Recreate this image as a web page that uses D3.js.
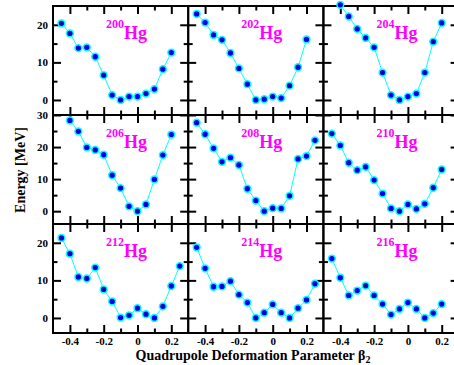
<!DOCTYPE html>
<html>
<head>
<meta charset="utf-8">
<script src="https://cdn.jsdelivr.net/npm/d3@7"></script>
<style>
  body { margin: 0; background: #fff; }
  svg { display: block; }
  text { font-family: "Liberation Serif", "Times New Roman", serif; font-weight: bold; }
</style>
</head>
<body>
<div id="chart"></div>
<script>
// deformation grid (beta2) shared by all panels
const beta = [-0.45, -0.40, -0.35, -0.30, -0.25, -0.20, -0.15, -0.10, -0.05, 0.00, 0.05, 0.10, 0.15, 0.20, 0.25];

// energies in MeV, null = no point
const hg200 = [20.4, 17.7, 13.8, 14.0, 11.5, 6.6, 1.3, 0, 0.9, 0.9, 1.7, 2.9, 8.2, 12.6, null];
const hg202 = [22.9, 20.6, 17.3, 16.0, 12.5, 8.4, 4.2, 0, 0.2, 0.9, 0.5, 3.8, 8.7, 16.1, null];
const hg204 = [null, 25.3, 22.2, 18.9, 16.5, 14.0, 7.3, 1.3, 0, 0.9, 1.7, 7.3, 15.5, 20.5, null];
const hg206 = [null, 28.3, 24.9, 19.9, 19.1, 17.6, 11.2, 7.2, 1.5, 0, 2.1, 9.9, 17.5, 23.9, null];
const hg208 = [27.6, 24.0, 19.6, 15.4, 16.7, 14.4, 7.0, 3.3, 0, 0.95, 0.85, 4.8, 16.3, 17.2, 22.1];
const hg210 = [24.2, 20.5, 15.1, 12.8, 13.8, 9.7, 5.5, 0.85, 0, 2.1, 0.7, 2.3, 7.3, 13.0, null];
const hg212 = [21.3, 17.1, 10.9, 10.5, 13.4, 7.6, 4.4, 0.1, 0.7, 2.6, 1.0, 0, 3.1, 8.5, 13.8];
const hg214 = [18.8, 13.2, 8.3, 8.4, 9.8, 6.2, 4.1, 0, 1.4, 3.6, 1.4, 0, 2.6, 4.8, 9.1];
const hg216 = [15.8, 10.7, 6.0, 7.3, 8.6, 6.0, 3.7, 0.9, 2.4, 4.1, 2.4, 0, 1.3, 3.7, null];

const isotopes = ["200", "202", "204", "206", "208", "210", "212", "214", "216"];
const series = [hg200, hg202, hg204, hg206, hg208, hg210, hg212, hg214, hg216];

// axis ranges / ticks
const xDomain = [-0.5, 0.3];
const xMajor = [-0.4, -0.2, 0, 0.2];
const xMinor = [-0.3, -0.1, 0.1];
const rowYMax = [25, 30, 25];
const yMin = -4;
const yMajorByRow = [[0, 10, 20], [0, 10, 20, 30], [0, 10, 20]];
const yMinorByRow = [[5, 15], [5, 15, 25], [5, 15]];

const width = 454, height = 365;
const left0 = 53, top0 = 6;
const panelW = 135.2, panelH = 109;

const svg = d3.select("#chart").append("svg")
  .attr("width", width)
  .attr("height", height);

const x = d3.scaleLinear().domain(xDomain).range([0, panelW]);
const fmtX = d => d === 0 ? "0" : d.toFixed(1);

series.forEach((vals, i) => {
  const col = i % 3, row = Math.floor(i / 3);
  const y = d3.scaleLinear().domain([yMin, rowYMax[row]]).range([panelH, 0]);

  const g = svg.append("g")
    .attr("transform", `translate(${left0 + col * panelW},${top0 + row * panelH})`);

  // inward ticks on all four sides
  const addAxis = (axis, tx, ty) => {
    const a = g.append("g").attr("transform", `translate(${tx},${ty})`).call(axis);
    a.select(".domain").remove();
    a.selectAll("line").attr("stroke", "#000").attr("stroke-width", 2);
    a.selectAll("text").attr("font-size", 11).attr("fill", "#000")
      .style("font-family", '"Liberation Serif", "Times New Roman", serif');
    return a;
  };

  addAxis(d3.axisBottom(x).tickValues(xMajor).tickSize(-8).tickPadding(4)
    .tickFormat(row === 2 ? fmtX : ""), 0, panelH);
  addAxis(d3.axisBottom(x).tickValues(xMinor).tickSize(-4.5).tickFormat(""), 0, panelH);
  addAxis(d3.axisTop(x).tickValues(xMajor).tickSize(-8).tickFormat(""), 0, 0);
  addAxis(d3.axisTop(x).tickValues(xMinor).tickSize(-4.5).tickFormat(""), 0, 0);

  addAxis(d3.axisLeft(y).tickValues(yMajorByRow[row]).tickSize(-8).tickPadding(5)
    .tickFormat(col === 0 ? d3.format("d") : ""), 0, 0);
  addAxis(d3.axisLeft(y).tickValues(yMinorByRow[row]).tickSize(-4.5).tickFormat(""), 0, 0);
  addAxis(d3.axisRight(y).tickValues(yMajorByRow[row]).tickSize(-8).tickFormat(""), panelW, 0);
  addAxis(d3.axisRight(y).tickValues(yMinorByRow[row]).tickSize(-4.5).tickFormat(""), panelW, 0);

  // frame
  g.append("rect")
    .attr("width", panelW).attr("height", panelH)
    .attr("fill", "none").attr("stroke", "#000").attr("stroke-width", 2);

  const pts = beta.map((b, j) => ({ b, e: vals[j] })).filter(d => d.e != null);

  g.append("path")
    .datum(pts)
    .attr("fill", "none")
    .attr("stroke", "#00ffff")
    .attr("stroke-width", 1)
    .attr("d", d3.line().x(d => x(d.b)).y(d => y(d.e)));

  const dots = g.selectAll(".dot")
    .data(pts)
    .enter()
    .append("g")
    .attr("class", "dot")
    .attr("transform", d => `translate(${x(d.b)},${y(d.e)})`);

  dots.append("circle")
    .attr("r", 3.4)
    .attr("fill", "#0000ff")
    .attr("stroke", "#00ffff")
    .attr("stroke-width", 1.5);

  dots.append("path")
    .attr("d", "M-1.3,-1.3L1.3,1.3M-1.3,1.3L1.3,-1.3")
    .attr("stroke", "#000066")
    .attr("stroke-width", 0.8);

  // isotope label
  const lab = g.append("text")
    .attr("x", 53)
    .attr("y", 33)
    .attr("fill", "#ff00ff");
  lab.append("tspan")
    .attr("font-size", 12)
    .attr("dy", -11)
    .text(isotopes[i]);
  lab.append("tspan")
    .attr("font-size", 18)
    .attr("dy", 11)
    .text("Hg");
});

// axis titles
const xt = svg.append("text")
  .attr("x", 253)
  .attr("y", 360)
  .attr("text-anchor", "middle")
  .attr("font-size", 14);
xt.append("tspan").text("Quadrupole Deformation Parameter  \u03b2");
xt.append("tspan").attr("font-size", 10).attr("dy", 3).text("2");

svg.append("text")
  .attr("transform", "translate(25,170) rotate(-90)")
  .attr("text-anchor", "middle")
  .attr("font-size", 14)
  .text("Energy [MeV]");
</script>
</body>
</html>
